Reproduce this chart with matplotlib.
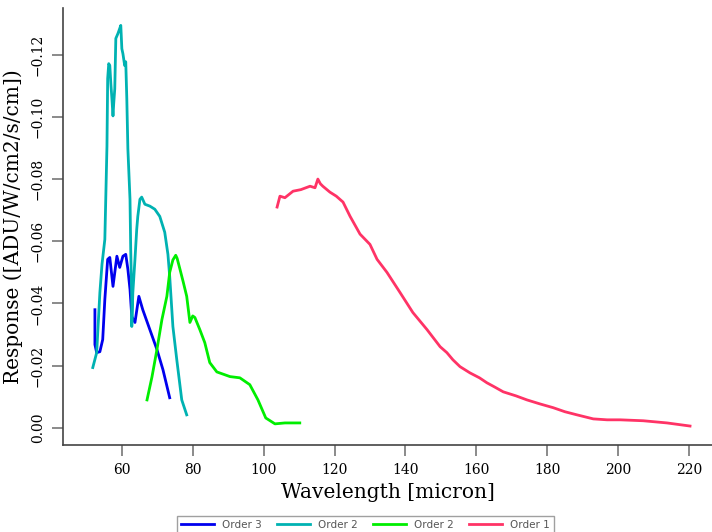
#!/usr/bin/env python3
"""Spectral response per grating order"""

import matplotlib
matplotlib.use('Agg')
import matplotlib.pyplot as plt

# Order 3 (blue)
order3_wl = [52.4, 52.4, 52.9, 53.8, 54.6, 55.2, 56.0, 56.6, 57.5, 58.6, 59.4,
             60.3, 61.1, 61.7, 62.3, 62.8, 63.7, 64.8, 65.9, 67.9, 69.9, 71.6, 73.5]
order3_resp = [-0.038, -0.0268, -0.0242, -0.0245, -0.0284, -0.0413, -0.0542,
               -0.0548, -0.0455, -0.0552, -0.0516, -0.0552, -0.0558, -0.051,
               -0.0445, -0.0358, -0.0339, -0.0423, -0.038, -0.0316, -0.0252,
               -0.0187, -0.0097]

# Order 2, first segment (teal)
order2a_wl = [51.8, 52.9, 53.8, 54.4, 55.2, 55.8, 56.0, 56.3, 56.6, 56.9, 57.2,
              57.5, 57.7, 58.0, 58.3, 58.9, 59.4, 59.7, 60.0, 60.3, 60.8, 61.1,
              61.4, 61.7, 62.3, 62.5, 62.8, 62.8, 63.1, 63.7, 64.2, 64.5, 65.1,
              65.6, 66.5, 67.9, 69.3, 70.7, 72.1, 73.0, 73.5, 74.4, 75.5, 76.9, 78.3]
order2a_resp = [-0.0194, -0.0242, -0.0435, -0.0526, -0.0606, -0.0906, -0.1123,
                -0.1171, -0.1165, -0.1106, -0.1058, -0.1003, -0.1042, -0.1090,
                -0.1252, -0.1268, -0.1284, -0.1294, -0.1219, -0.1203, -0.1165,
                -0.1177, -0.1058, -0.0897, -0.0735, -0.0574, -0.0413, -0.0326,
                -0.0435, -0.0542, -0.0639, -0.0680, -0.0735, -0.0742, -0.0719,
                -0.0713, -0.0703, -0.0680, -0.0629, -0.0558, -0.0487, -0.0326,
                -0.0219, -0.0090, -0.0042]

# Order 2, second segment (green)
order2b_wl = [67.1, 68.5, 69.9, 71.3, 72.7, 73.5, 74.4, 75.2, 75.6, 76.4, 77.3,
              78.3, 79.2, 80.0, 80.6, 82.0, 83.4, 84.8, 86.8, 90.5, 93.3, 96.1,
              98.4, 100.6, 103.2, 106.0, 110.2]
order2b_resp = [-0.009, -0.0164, -0.0252, -0.0348, -0.0423, -0.0500, -0.0540,
                -0.0555, -0.0545, -0.051, -0.047, -0.0423, -0.0339, -0.036,
                -0.0355, -0.0316, -0.0274, -0.021, -0.018, -0.0165, -0.0161,
                -0.0139, -0.009, -0.0032, -0.0013, -0.0016, -0.0016]

# Order 1 (red)
order1_wl = [103.8, 104.6, 106.0, 108.3, 110.5, 113.1, 114.5, 115.3, 116.0, 116.7,
             118.7, 120.5, 122.4, 124.4, 127.2, 130.0, 132.0, 134.8, 138.5, 142.1,
             146.1, 149.8, 151.7, 153.4, 155.4, 158.2, 160.9, 163.0, 165.1, 167.6,
             171.2, 174.3, 178.0, 181.7, 185.0, 188.4, 193.0, 196.9, 200.6, 207.1,
             213.8, 220.3]
order1_resp = [-0.071, -0.0745, -0.0740, -0.0761, -0.0766, -0.0777, -0.0772,
               -0.0800, -0.0785, -0.0777, -0.0758, -0.0745, -0.0726, -0.068,
               -0.0623, -0.0590, -0.0542, -0.0500, -0.0435, -0.0371, -0.0316,
               -0.0261, -0.0242, -0.0219, -0.0197, -0.0177, -0.0161, -0.0145,
               -0.0132, -0.0116, -0.0103, -0.0090, -0.0077, -0.0065, -0.0052,
               -0.0042, -0.0029, -0.0026, -0.0026, -0.0023, -0.0016, -0.0006]

series = [
    (order3_wl, order3_resp, '#0000ee', 'Order 3'),
    (order2a_wl, order2a_resp, '#00b2b2', 'Order 2'),
    (order2b_wl, order2b_resp, '#00ee00', 'Order 2'),
    (order1_wl, order1_resp, '#ff3366', 'Order 1'),
]

xticks = [60, 80, 100, 120, 140, 160, 180, 200, 220]
yticks = [0.00, -0.02, -0.04, -0.06, -0.08, -0.10, -0.12]


def main():
    plt.rcParams['font.family'] = ['DejaVu Serif']
    fig = plt.figure(figsize=(7.12, 5.32), dpi=100)
    ax = fig.add_axes([0.0885, 0.1635, 0.9115, 0.8215])

    for wl, resp, color, label in series:
        ax.plot(wl, resp, color=color, linewidth=2, label=label)

    ax.set_xlim(43.4, 226.5)
    ax.set_ylim(0.0055, -0.135)

    ax.set_xticks(xticks)
    ax.set_xticklabels([str(t) for t in xticks], fontsize=10)
    ax.set_yticks(yticks)
    ylabels = [('%.2f' % abs(t)) if t == 0 else '\u2212%.2f' % abs(t) for t in yticks]
    ax.set_yticklabels(ylabels, fontsize=10, rotation=90, va='center')
    ax.tick_params(direction='out', length=8, width=1.2, color='#777777', pad=5)

    for side in ['top', 'right']:
        ax.spines[side].set_visible(False)
    for side in ['left', 'bottom']:
        ax.spines[side].set_color('#444444')
        ax.spines[side].set_linewidth(1.2)

    ax.set_xlabel('Wavelength [micron]', fontsize=14.5, labelpad=4)
    ax.set_ylabel('Response ([ADU/W/cm2/s/cm])', fontsize=14.5, labelpad=6)

    leg = fig.legend(loc='lower center', bbox_to_anchor=(0.513, -0.012), ncol=4,
                     prop={'family': 'DejaVu Sans', 'size': 7.5},
                     fancybox=False, edgecolor='#888888', handlelength=3.2,
                     columnspacing=1.4, borderpad=0.35)
    for text in leg.get_texts():
        text.set_color('#555555')

    fig.savefig('out.png', dpi=100)
    plt.close(fig)


if __name__ == '__main__':
    main()
